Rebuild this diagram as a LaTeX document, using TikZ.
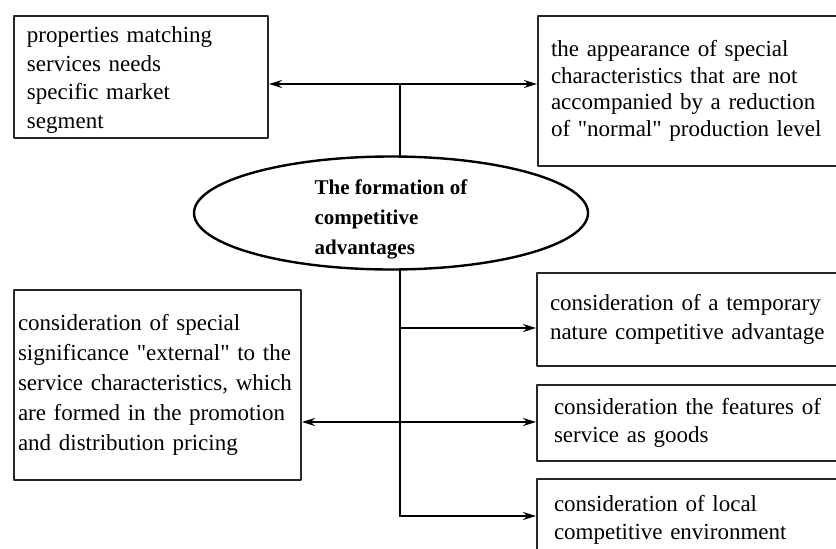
\documentclass[tikz,border=0pt]{standalone}
\usepackage{fontspec}
\setmainfont{Liberation Serif}[Ligatures=TeXOff]
\usetikzlibrary{shapes.geometric,arrows.meta}

\begin{document}
\begin{tikzpicture}[x=1pt,y=-1pt,line cap=round,line join=round,
    box/.style={draw=black!85,line width=2pt,anchor=north west,align=left,
      inner xsep=13pt,inner ysep=0pt,font=\fontsize{23}{28.5}\selectfont},
    link/.style={line width=2pt},
    tip/.style={link,-{Stealth[length=13pt,width=8pt]}}]
  \useasboundingbox (0,0) rectangle (836,549);
  \clip (0,0) rectangle (836,549);

  % boxes
  \node[box,text width=228pt,minimum height=122pt] (props) at (13,15)
    {\rule{0pt}{22pt}properties matching\\services needs\\specific market\\segment};
  \node[box,text width=304pt,minimum height=150pt,font=\fontsize{23}{26.5}\selectfont] (special) at (537,15)
    {the appearance of special\\characteristics that are not\\accompanied by a reduction\\of "normal" production level\\[4pt]};
  \node[box,text width=304pt,minimum height=93pt] (temp) at (536,272)
    {consideration of a temporary\\nature competitive advantage};
  \node[box,text width=296pt,inner xsep=17pt,minimum height=76pt] (feat) at (536,384)
    {consideration the features of\\service as goods};
  \node[box,text width=296pt,inner xsep=17pt,minimum height=82pt] (local) at (536,478)
    {consideration of local\\competitive environment};
  \node[box,text width=279pt,inner xsep=4pt,minimum height=190pt,font=\fontsize{23}{30}\selectfont] (ext) at (13,289)
    {consideration of special\\significance "external" to the\\service characteristics, which\\are formed in the promotion\\and distribution pricing\\[2pt]};

  % centre
  \node[draw,ellipse,line width=2.4pt,inner sep=0pt,minimum width=394pt,minimum height=113pt] (core) at (391,213) {};
  \node[align=left,inner sep=0pt,font=\fontsize{21}{30}\selectfont\bfseries] (coretext)
    at ([yshift=-6pt]core.center) {The formation of\\competitive\\advantages};

  \coordinate (j1) at (400,84);
  \coordinate (j2) at (400,328);
  \coordinate (j3) at (400,422);
  \coordinate (j4) at (400,516);

  \draw[link] (j1) -- (j1 |- core.north);
  \draw[tip] (j1) -- (j1 -| props.east);
  \draw[tip] (j1) -- (j1 -| special.west);
  \draw[link] (j4 |- core.south) -- (j4);
  \draw[tip] (j2) -- (j2 -| temp.west);
  \draw[tip] (j3) -- (j3 -| feat.west);
  \draw[tip] (j3) -- (j3 -| ext.east);
  \draw[tip] (j4) -- (j4 -| local.west);
\end{tikzpicture}
\end{document}
